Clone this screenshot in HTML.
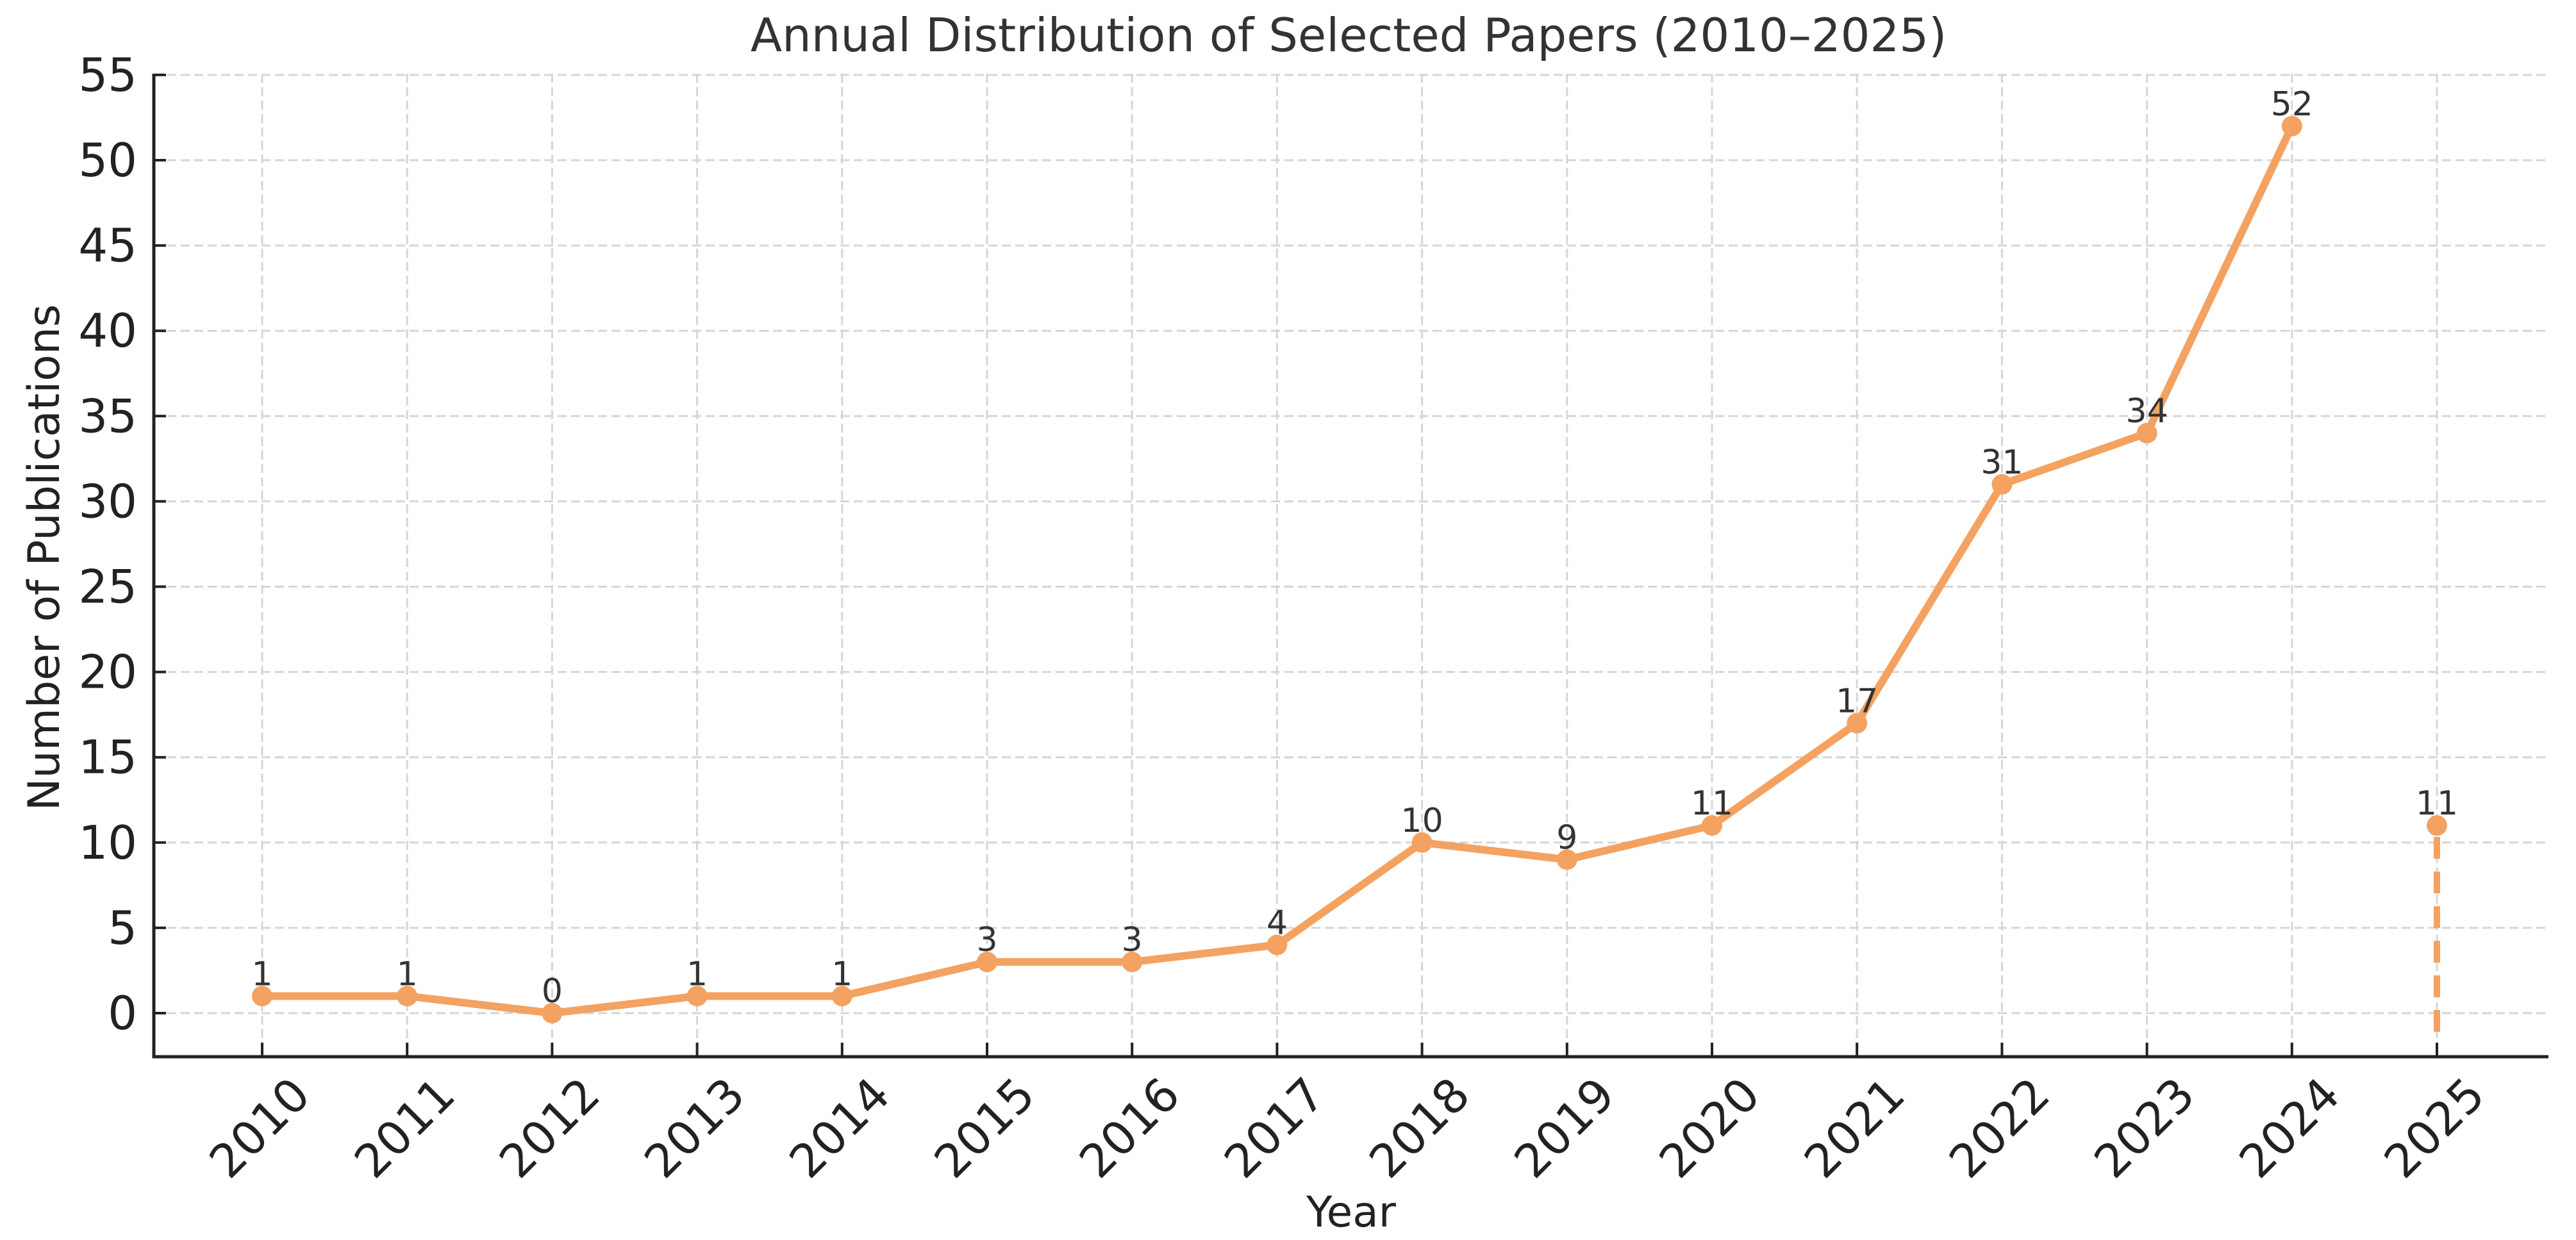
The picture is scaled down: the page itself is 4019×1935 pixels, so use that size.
<!DOCTYPE html>
<html><head><meta charset="utf-8"><style>
html,body{margin:0;padding:0;background:#fff;}
svg{display:block;font-family:"DejaVu Sans","Liberation Sans",sans-serif;}
</style></head><body>
<svg id="chart" width="4019" height="1935" viewBox="0 0 4019 1935" xmlns="http://www.w3.org/2000/svg">
<rect width="4019" height="1935" fill="#fff"/>
<g id="grid"></g>
<g id="axes"></g>
<g id="series"></g>
<text x="2104" y="80" font-size="72" text-anchor="middle" fill="#333">Annual Distribution of Selected Papers (2010–2025)</text>
<text x="2108" y="1914" font-size="66" text-anchor="middle" fill="#222">Year</text>
<text transform="translate(92,870) rotate(-90)" font-size="68" text-anchor="middle" fill="#222">Number of Publications</text>
</svg>
<script>
const years = [2010,2011,2012,2013,2014,2015,2016,2017,2018,2019,2020,2021,2022,2023,2024,2025];
const counts = [1,1,0,1,1,3,3,4,10,9,11,17,31,34,52];
const partialYear = 2025;
const partialCount = 11;
const yTicks = [0,5,10,15,20,25,30,35,40,45,50,55];

const NS='http://www.w3.org/2000/svg';
const x0=409, dx=226.2, yZero=1581, pxPerUnit=26.62;
const X=y=>x0+(y-years[0])*dx;
const Y=v=>yZero-v*pxPerUnit;
const axLeft=240, axBottom=1649, axTop=115, axRight=3976;
function mk(tag,parent,attrs){const e=document.createElementNS(NS,tag);for(const k in attrs)e.setAttribute(k,attrs[k]);parent.appendChild(e);return e;}
const gGrid=document.getElementById('grid'), gAxes=document.getElementById('axes'), gSeries=document.getElementById('series');

yTicks.forEach(t=>{
  const g=mk('line',gGrid,{x1:axLeft,x2:axRight,y1:Y(t),y2:Y(t),stroke:'#d6d6d6','stroke-width':3,'stroke-dasharray':'14 7'});
  
  
  const tk=mk('line',gAxes,{x1:axLeft,x2:axLeft+19,y1:Y(t),y2:Y(t),stroke:'#222','stroke-width':4});
  
  
  const lb=mk('text',gAxes,{x:214,y:Y(t)+25,'font-size':72,'text-anchor':'end',fill:'#222'});
  lb.textContent=t;
  
  
});
years.forEach(yr=>{
  const g=mk('line',gGrid,{x1:X(yr),x2:X(yr),y1:axTop,y2:axBottom,stroke:'#d6d6d6','stroke-width':3,'stroke-dasharray':'14 7'});
  
  
  const tk=mk('line',gAxes,{x1:X(yr),x2:X(yr),y1:axBottom-22,y2:axBottom,stroke:'#222','stroke-width':4});
  
  
  const lb=mk('text',gAxes,{transform:`translate(${X(yr)-4},${1760}) rotate(-45)`,'font-size':72,'text-anchor':'middle','dominant-baseline':'central',fill:'#222'});
  lb.textContent=yr;
  
  
});
const ls=mk('line',gAxes,{x1:axLeft,x2:axLeft,y1:axTop,y2:axBottom+2,stroke:'#222','stroke-width':5});


const bs=mk('line',gAxes,{x1:axLeft-2,x2:axRight,y1:axBottom,y2:axBottom,stroke:'#222','stroke-width':5});



const color='#F4A261';
const pts=counts.map((c,i)=>`${X(years[i])},${Y(c)}`).join(' ');
const pl=mk('polyline',gSeries,{points:pts,fill:'none',stroke:color,'stroke-width':12,'stroke-linejoin':'round'});


counts.forEach((c,i)=>{
  const m=mk('circle',gSeries,{cx:X(years[i]),cy:Y(c),r:16,fill:color});
  
  
  const t=mk('text',gSeries,{x:X(years[i]),y:Y(c)-17,'font-size':52,'text-anchor':'middle',fill:'#333'});
  t.textContent=c;
  
  
});
const dl=mk('line',gSeries,{x1:X(partialYear),x2:X(partialYear),y1:Y(partialCount)+18,y2:1612,stroke:color,'stroke-width':10,'stroke-dasharray':'34 20'});


const pm=mk('circle',gSeries,{cx:X(partialYear),cy:Y(partialCount),r:16,fill:color});


const pt=mk('text',gSeries,{x:X(partialYear),y:Y(partialCount)-17,'font-size':52,'text-anchor':'middle',fill:'#333'});
pt.textContent=partialCount;


</script>
</body></html>
